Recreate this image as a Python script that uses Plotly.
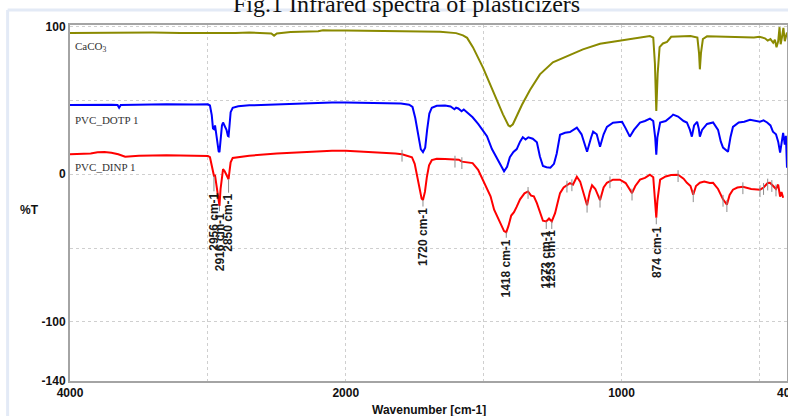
import numpy as np
import plotly.graph_objects as go

# ---------------- data ----------------
caco3_wn = [4000, 3800, 3600, 3400, 3200, 3000, 2800, 2700, 2600, 2540, 2520, 2500, 2400, 2300,
            2200, 2165, 2100, 2000, 1900, 1800, 1700, 1658, 1600, 1575, 1560, 1539, 1502, 1466,
            1430, 1410, 1404, 1394, 1361, 1332, 1296, 1249, 1198, 1140, 1078, 1006, 944, 897,
            885, 879, 874, 869, 862, 850, 835, 820, 750, 725, 719, 716, 712, 705, 690, 600, 520,
            500, 480, 470, 460, 450, 444, 438, 432, 427, 423, 418, 413, 408, 403, 400]
caco3_t = [95.6, 95.8, 95.5, 95.9, 95.6, 95.5, 95.6, 96.0, 95.8, 95.2, 93.8, 95.3, 96.3, 96.5,
           96.8, 97.5, 97.2, 97.3, 97.0, 96.8, 96.6, 96.4, 95.5, 94.0, 92.3, 86.0, 72.0, 56.0,
           40.5, 33.0, 32.3, 33.8, 47.0, 57.0, 67.6, 75.7, 79.7, 84.5, 88.3, 90.3, 92.3, 93.5,
           92.5, 75.0, 42.8, 68.0, 86.0, 88.5, 89.5, 93.0, 93.6, 92.5, 82.0, 71.0, 82.0, 91.5, 93.3, 93.0, 92.5,
           93.0, 92.0, 90.5, 91.5, 89.0, 91.0, 86.0, 90.0, 99.5, 88.0, 93.0, 99.0, 90.0, 94.0, 96.0]

dotp_wn = [4000, 3900, 3800, 3700, 3655, 3644, 3632, 3500, 3300, 3100, 3000, 2985, 2972, 2963,
           2956, 2948, 2935, 2922, 2916, 2908, 2898, 2890, 2878, 2865, 2855, 2850, 2843, 2835,
           2820, 2780, 2700, 2500, 2300, 2100, 2000, 1900, 1800, 1770, 1758, 1748, 1738, 1728,
           1720, 1712, 1705, 1697, 1688, 1670, 1640, 1620, 1606, 1600, 1592, 1580, 1572, 1560,
           1540, 1520, 1502, 1488, 1470, 1455, 1440, 1426, 1415, 1405, 1392, 1380, 1368, 1358,
           1348, 1338, 1322, 1307, 1296, 1285, 1272, 1258, 1245, 1235, 1223, 1205, 1187, 1172,
           1162, 1145, 1125, 1110, 1103, 1090, 1078, 1065, 1053, 1031, 1010, 998, 985, 970, 955,
           933, 915, 897, 885, 878, 874, 870, 860, 840, 820, 813, 795, 775, 763, 752, 745, 737,
           726, 720, 716, 708, 690, 668, 650, 640, 632, 620, 614, 605, 596, 575, 555, 534, 515,
           498, 485, 472, 460, 451, 440, 432, 425, 420, 414, 408, 404, 400]
dotp_t = [46.8, 46.9, 47.2, 47.0, 46.8, 45.0, 46.9, 47.2, 47.4, 47.2, 47.3, 46.5, 40.0, 31.0,
          30.5, 33.0, 22.0, 15.5, 15.0, 24.0, 33.0, 35.0, 33.0, 30.0, 26.0, 25.7, 33.0, 42.0,
          45.0, 46.0, 46.6, 47.4, 48.0, 48.5, 48.6, 48.3, 47.8, 47.0, 45.5, 38.0, 26.0, 17.0,
          15.0, 18.0, 30.0, 41.0, 45.0, 46.3, 46.5, 45.8, 44.0, 45.0, 44.5, 42.6, 43.8, 42.0,
          38.5, 34.0, 29.0, 25.7, 17.0, 12.0, 6.0, 2.0, 5.0, 11.5, 15.0, 17.0, 22.0, 25.0,
          23.5, 25.0, 24.0, 21.6, 12.0, 5.5, 4.7, 4.4, 7.0, 14.0, 26.7, 28.0, 28.5, 30.0,
          31.5, 27.0, 15.2, 25.0, 28.8, 27.0, 18.6, 27.0, 32.0, 34.9, 35.0, 35.5, 31.0, 25.4, 30.0,
          34.9, 36.0, 37.6, 36.0, 25.0, 13.2, 25.0, 35.0, 36.0, 39.0, 40.3, 39.0, 36.0, 35.0, 30.0, 25.4, 33.0,
          35.5, 31.0, 25.4, 30.0, 34.0, 35.0, 30.0, 22.0, 18.0, 16.0, 15.2, 25.0, 32.0, 35.0, 35.5, 36.9, 36.0,
          35.5, 36.5, 35.0, 33.0, 28.8, 27.0, 22.0, 14.6, 22.0, 28.0, 20.0, 26.0, 4.4]

dinp_wn = [4000, 3900, 3850, 3800, 3750, 3700, 3650, 3600, 3550, 3500, 3300, 3100, 3000, 2985,
           2972, 2962, 2956, 2948, 2935, 2925, 2916, 2908, 2898, 2890, 2878, 2865, 2855, 2850,
           2843, 2835, 2820, 2780, 2700, 2500, 2300, 2100, 2000, 1900, 1820, 1796, 1775, 1760,
           1750, 1740, 1732, 1725, 1720, 1713, 1706, 1698, 1688, 1670, 1640, 1620, 1604, 1590,
           1579, 1560, 1540, 1520, 1505, 1490, 1475, 1462, 1450, 1438, 1426, 1418, 1410, 1400,
           1390, 1380, 1368, 1352, 1339, 1328, 1318, 1307, 1296, 1285, 1273, 1263, 1253, 1241,
           1230, 1223, 1210, 1198, 1187, 1176, 1162, 1150, 1138, 1125, 1115, 1107, 1095, 1078,
           1065, 1053, 1031, 1006, 985, 970, 962, 950, 933, 915, 897, 885, 878, 874, 870, 860,
           840, 820, 795, 775, 763, 750, 740, 730, 716, 700, 680, 668, 650, 632, 618, 608, 596,
           580, 560, 530, 498, 485, 470, 462, 450, 440, 432, 425, 420, 414]
dinp_t = [13.5, 13.6, 14.0, 14.8, 15.0, 14.5, 13.5, 11.8, 12.2, 12.5, 12.8, 12.6, 12.4, 11.5,
          5.0, -0.5, -1.1, -1.0, -9.0, -18.0, -21.4, -10.0, 0.0, 3.4, 2.0, -1.0, -3.4, -3.4,
          2.0, 8.0, 11.0, 11.6, 12.5, 14.0, 15.0, 15.8, 15.8, 15.0, 14.0, 13.5, 12.5, 11.5,
          7.0, -2.0, -10.0, -16.5, -17.5, -12.0, -2.0, 6.0, 9.5, 10.5, 10.3, 10.0, 9.5, 9.8,
          8.5, 8.0, 7.5, 3.0, -3.0, -8.0, -15.0, -24.0, -29.0, -34.0, -38.5, -39.3, -35.0, -28.0,
          -25.7, -22.0, -17.0, -13.0, -11.7, -14.5, -15.0, -19.6, -26.0, -31.5, -32.0, -30.0, -32.0, -26.4,
          -18.0, -12.8, -9.0, -7.4, -6.0, -7.0, -1.7, -5.0, -13.0, -21.0, -12.0, -7.5, -10.0, -17.6,
          -9.0, -5.8, -3.7, -3.7, -6.0, -10.0, -12.8, -8.0, -3.7, -2.5, -0.3, -2.0, -18.0, -29.5, -18.0, -3.7,
          -1.5, -0.5, -0.3, -3.0, -5.8, -8.0, -13.9, -8.0, -5.8, -5.0, -6.0, -5.8, -10.0, -17.0, -20.6, -14.0, -10.5,
          -9.0, -8.5, -10.0, -10.5, -9.0, -6.0, -5.8, -8.0, -10.0, -7.0, -15.2, -12.0, -16.0]

# unlabelled peak markers on the PVC_DINP trace
mark_wn = [1796, 1604, 1579, 1339, 1198, 1180, 1125, 1078, 1042, 962, 795, 740, 632, 618,
           560, 498, 485, 470, 455, 440]
mark_t = [13.5, 9.5, 8.5, -11.7, -7.4, -6.5, -21.0, -17.6, -4.5, -12.8, -0.3, -13.9, -17.0,
          -20.6, -8.5, -10.5, -9.0, -6.0, -7.0, -10.0]

# labelled peaks
peak_wn = [2956, 2916, 2850, 1720, 1418, 1273, 1253, 874]
peak_t = [-1.1, -21.4, -3.4, -17.5, -39.3, -32.0, -32.0, -29.5]
peak_text = ["2956 cm-1", "2916 cm-1", "2850 cm-1", "1720 cm-1", "1418 cm-1",
             "1273 cm-1", "1253 cm-1", "874 cm-1"]
label_offsets = [46, 36, 44, 37, 36, 38, 38, 34]   # style: pixel drop of each label

x_tick_wn = [4000, 3000, 2000, 1500, 1000, 500, 400]
x_tick_text = ["4000", "", "2000", "", "1000", "", "400"]
y_tick_vals = [100, 50, 0, -50, -100, -140]
y_tick_text = ["100", "", "0", "", "-100", "-140"]

series_names = ["CaCO<sub>3</sub>", "PVC_DOTP 1", "PVC_DINP 1"]
series_label_t = [86.0, 36.8, 4.8]


# axis above 2000 cm-1 is drawn at half scale (instrument's split scale)
def xs(w):
    w = np.asarray(w, dtype=float)
    return np.where(w <= 2000, w, 2000 + (w - 2000) / 2.0)


OLIVE = "#8a8a00"
BLUE = "#0000ff"
RED = "#ff0000"
GRID = "#cfcfcf"
AXIS = "#a4a4a4"
SANS = "Liberation Sans, Arial, sans-serif"
SERIF = "Liberation Serif, Times New Roman, serif"

fig = go.Figure()

fig.add_trace(go.Scatter(x=xs(caco3_wn), y=caco3_t, mode="lines",
                         line=dict(color=OLIVE, width=2), hoverinfo="skip"))
fig.add_trace(go.Scatter(x=xs(dotp_wn), y=dotp_t, mode="lines",
                         line=dict(color=BLUE, width=2), hoverinfo="skip"))
fig.add_trace(go.Scatter(x=xs(dinp_wn), y=dinp_t, mode="lines",
                         line=dict(color=RED, width=2), hoverinfo="skip"))

# small grey peak-pick markers
mx, my = [], []
for w, v in zip(mark_wn, mark_t):
    mx += [float(xs(w)), float(xs(w)), None]
    my += [v + 3, v - 5, None]
fig.add_trace(go.Scatter(x=mx, y=my, mode="lines",
                         line=dict(color="#8c8c8c", width=1), hoverinfo="skip"))

# peak labels with leader lines
for w, v, txt, off in zip(peak_wn, peak_t, peak_text, label_offsets):
    fig.add_annotation(x=float(xs(w)), y=v, xref="x", yref="y", text=txt,
                       textangle=-90, showarrow=True, arrowhead=0, arrowwidth=1,
                       arrowcolor="#8c8c8c", ax=0, ay=off, standoff=0,
                       font=dict(family=SANS, size=12, color="#1a1a1a", weight="bold"))

# series names
for name, v in zip(series_names, series_label_t):
    fig.add_annotation(x=float(xs(3978)), y=v, xref="x", yref="y", text=name,
                       showarrow=False, xanchor="left", yanchor="middle",
                       font=dict(family=SERIF, size=11, color="#333333"))

# axis titles
fig.add_annotation(x=-0.056, y=-24, xref="paper", yref="y", text="%T", showarrow=False,
                   xanchor="center", yanchor="middle",
                   font=dict(family=SANS, size=12, color="#111111", weight="bold"))
fig.add_annotation(x=0.5, y=-0.082, xref="paper", yref="paper", text="Wavenumber [cm-1]",
                   showarrow=False, xanchor="center", yanchor="middle",
                   font=dict(family=SANS, size=12, color="#111111", weight="bold"))

# faint outer frame
fig.add_shape(type="line", xref="paper", yref="paper", x0=-0.087, x1=1.2, y0=1.042, y1=1.042,
              line=dict(color="#e3eaf6", width=3))
fig.add_shape(type="line", xref="paper", yref="paper", x0=-0.087, x1=-0.087, y0=1.042, y1=-0.2,
              line=dict(color="#e3eaf6", width=3))

fig.update_layout(
    width=788, height=416,
    margin=dict(l=70, r=1, t=25, b=35, autoexpand=False),
    paper_bgcolor="white", plot_bgcolor="white",
    showlegend=False,
    title=dict(text="Fig.1 Infrared spectra of plasticizers", x=0.516, xanchor="center",
               xref="container", y=0.992, yanchor="middle", yref="container",
               font=dict(family=SERIF, size=24, color="#111111")),
    xaxis=dict(range=[3000, 400], tickmode="array", tickvals=list(xs(x_tick_wn)),
               ticktext=x_tick_text, showgrid=True, gridcolor=GRID, griddash="dot",
               gridwidth=1, zeroline=False, showline=True, linecolor=AXIS, linewidth=2,
               mirror=True, ticks="", ticklabeloverflow="allow", automargin=False,
               tickfont=dict(family=SANS, size=12, color="#111111", weight="bold")),
    yaxis=dict(range=[-140, 101], tickmode="array", tickvals=y_tick_vals,
               ticktext=y_tick_text, showgrid=True, gridcolor=GRID, griddash="dot",
               gridwidth=1, zeroline=False, showline=True, linecolor=AXIS, linewidth=2,
               mirror=True, ticks="", ticklabeloverflow="allow", automargin=False,
               tickfont=dict(family=SANS, size=12, color="#111111", weight="bold")),
)

fig.write_html("out.html")
